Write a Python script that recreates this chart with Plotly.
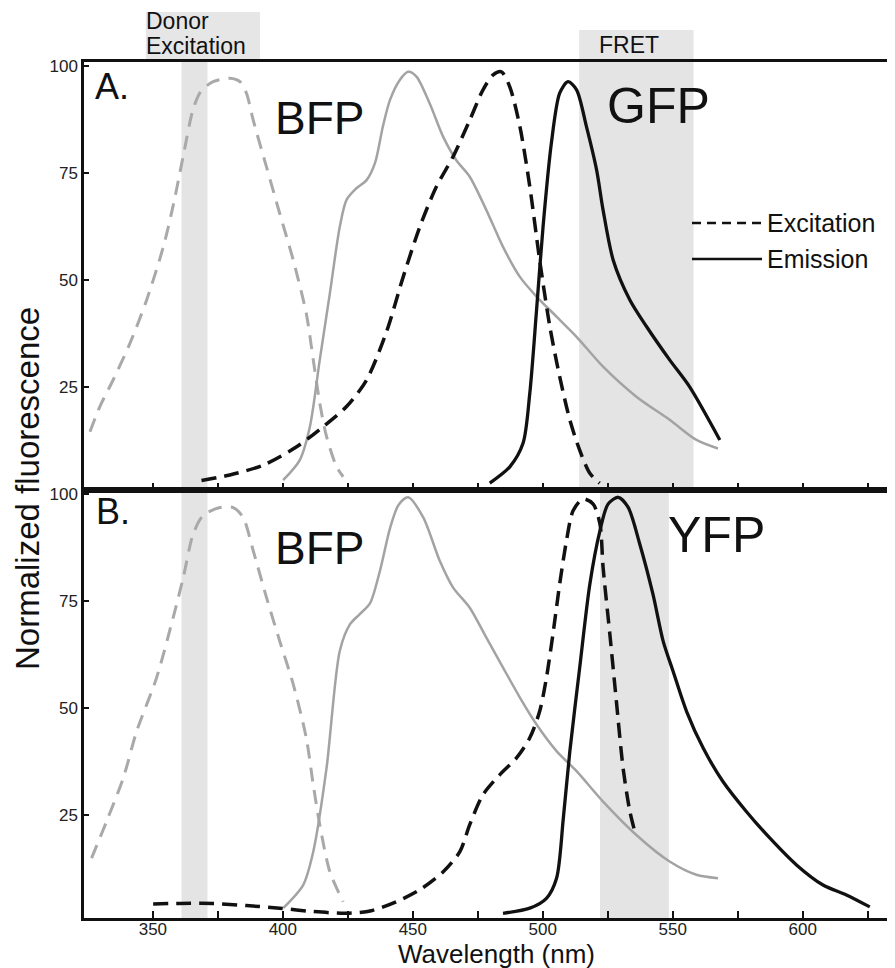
import plotly.graph_objects as go

# ---------------- data (wavelength nm, normalized fluorescence) ----------------
# Panel A: BFP -> GFP
a_bfp_ex_x = [325.8, 329.6, 334.7, 341.2, 347.6, 354.0, 358.0, 361.5, 365.5, 368.5, 373.2, 379.6, 383.5, 386.0, 388.6, 393.7, 398.8, 404.0, 409.0, 411.7, 414.2, 416.8, 420.7, 423.2]
a_bfp_ex_y = [14.6, 20.5, 26.7, 35.3, 45.4, 57.8, 68.0, 78.5, 90.0, 94.2, 96.4, 97.2, 96.4, 93.7, 87.4, 76.5, 65.6, 54.7, 42.3, 31.4, 21.3, 13.5, 6.4, 4.1]

a_bfp_em_x = [400.1, 406.5, 410.4, 414.2, 418.1, 421.9, 424.5, 428.3, 432.2, 435.5, 438.5, 441.2, 445.0, 448.2, 451.4, 456.5, 461.7, 466.8, 471.9, 478.3, 484.7, 491.2, 497.6, 505.3, 513.0, 523.2, 536.0, 548.8, 559.1, 567.4]
a_bfp_em_y = [3.3, 8.0, 15.8, 31.4, 47.0, 62.5, 68.8, 71.5, 73.4, 77.5, 86.0, 92.1, 96.8, 98.7, 97.6, 91.3, 83.5, 78.0, 74.2, 66.4, 57.8, 50.8, 46.2, 41.5, 36.8, 29.8, 22.8, 17.4, 12.7, 10.7]

a_gfp_ex_x = [368.7, 379.6, 392.4, 405.3, 415.5, 424.5, 432.2, 439.9, 446.3, 452.7, 459.1, 465.5, 471.9, 477.0, 480.9, 484.1, 487.3, 491.2, 495.0, 498.8, 502.7, 506.5, 510.4, 514.2, 518.1, 521.9]
a_gfp_ex_y = [3.2, 4.5, 6.8, 11.1, 15.8, 20.5, 26.7, 38.0, 50.8, 62.5, 71.9, 78.9, 87.4, 94.5, 98.0, 98.7, 95.2, 85.9, 71.9, 54.7, 39.2, 27.5, 17.4, 10.3, 4.9, 2.6]

a_gfp_em_x = [479.6, 487.3, 492.4, 495.0, 497.6, 500.1, 503.3, 506.5, 509.7, 513.0, 516.8, 520.7, 523.2, 527.1, 533.5, 539.9, 548.8, 556.5, 568.1]
a_gfp_em_y = [2.6, 6.4, 11.9, 23.6, 43.0, 62.5, 82.0, 93.7, 96.4, 94.5, 85.9, 75.8, 66.4, 54.7, 45.4, 39.2, 31.4, 25.1, 12.7]

# Panel B: BFP -> YFP
b_bfp_ex_x = [326.4, 332.2, 338.6, 343.8, 351.4, 357.8, 361.7, 365.5, 369.3, 375.8, 380.9, 384.7, 388.6, 393.7, 398.8, 404.0, 409.0, 411.7, 414.2, 418.1, 423.2]
b_bfp_ex_y = [15.0, 23.6, 33.7, 44.7, 57.1, 71.2, 80.6, 90.7, 95.0, 96.9, 96.9, 94.6, 86.8, 75.9, 65.7, 55.6, 43.1, 32.1, 22.8, 11.8, 4.8]

b_bfp_em_x = [400.1, 407.8, 411.7, 416.8, 421.9, 425.8, 429.6, 433.5, 437.3, 441.2, 444.5, 448.2, 454.0, 460.4, 465.5, 471.9, 478.3, 484.7, 491.2, 497.6, 505.3, 513.0, 523.2, 536.0, 548.8, 559.1, 567.4]
b_bfp_em_y = [3.3, 8.7, 16.5, 36.0, 63.4, 69.6, 72.0, 74.5, 82.0, 92.0, 97.5, 99.3, 94.6, 84.4, 78.2, 73.5, 66.5, 59.5, 52.5, 46.2, 40.0, 35.3, 28.2, 20.4, 14.2, 11.1, 10.3]

b_yfp_ex_x = [350.1, 360.4, 373.2, 386.0, 398.8, 411.7, 424.5, 434.0, 443.7, 452.7, 461.7, 468.1, 471.9, 477.0, 483.5, 489.9, 495.0, 498.8, 501.4, 503.9, 506.5, 509.1, 511.7, 515.5, 519.4, 522.0, 523.2, 525.8, 528.3, 530.9, 533.5, 535.4]
b_yfp_ex_y = [4.3, 4.4, 4.4, 3.9, 3.3, 2.5, 2.1, 2.7, 4.8, 7.6, 11.8, 16.5, 22.8, 29.8, 34.5, 38.4, 43.1, 49.3, 57.1, 67.3, 79.0, 89.1, 96.2, 98.9, 97.7, 93.0, 82.9, 67.3, 51.7, 36.0, 25.9, 21.2]

b_yfp_em_x = [484.7, 495.0, 501.4, 505.3, 507.9, 510.4, 514.2, 518.1, 522.0, 525.1, 529.0, 532.8, 537.3, 542.4, 546.3, 550.1, 555.3, 561.7, 569.3, 578.3, 587.3, 597.6, 607.8, 616.8, 625.8]
b_yfp_em_y = [2.1, 3.3, 5.6, 10.3, 24.3, 39.9, 59.5, 79.0, 91.5, 97.7, 99.3, 97.0, 88.4, 76.6, 65.7, 58.7, 49.3, 40.7, 32.9, 25.9, 19.7, 13.4, 8.7, 6.4, 3.6]

# shaded wavelength bands (nm)
donor_band = [361, 371]
fret_band_a = [514, 558]
fret_band_b = [522, 548.5]
donor_label_span = [347.3, 391.2]

# axis ticks
x_tickvals = [350, 375, 400, 425, 450, 475, 500, 525, 550, 575, 600, 625]
x_ticktext = ["350", "", "400", "", "450", "", "500", "", "550", "", "600", ""]
y_tickvals = [25, 50, 75, 100]
y_ticktext = ["25", "50", "75", "100"]

X_RANGE = [323.5, 635.5]
Y_RANGE = [1, 101]

# ---------------- styles ----------------
GRAY_DASH = dict(color="#a9a9a9", width=3, dash="14px,9px")
GRAY_SOLID = dict(color="#a3a3a3", width=2.5)
BLACK_DASH = dict(color="#111111", width=3.5, dash="15px,8px")
BLACK_SOLID = dict(color="#111111", width=3.3)
FONT = "Liberation Sans, Arial, Helvetica, sans-serif"

fig = go.Figure()

def add(xs, ys, line, xa, ya):
    ln = dict(line)
    ln["shape"] = "spline"
    ln["smoothing"] = 0.8
    fig.add_trace(go.Scatter(x=xs, y=ys, mode="lines", line=ln, xaxis=xa, yaxis=ya,
                             showlegend=False, hoverinfo="skip"))

add(a_bfp_ex_x, a_bfp_ex_y, GRAY_DASH, "x", "y")
add(a_bfp_em_x, a_bfp_em_y, GRAY_SOLID, "x", "y")
add(a_gfp_ex_x, a_gfp_ex_y, BLACK_DASH, "x", "y")
add(a_gfp_em_x, a_gfp_em_y, BLACK_SOLID, "x", "y")

add(b_bfp_ex_x, b_bfp_ex_y, GRAY_DASH, "x2", "y2")
add(b_bfp_em_x, b_bfp_em_y, GRAY_SOLID, "x2", "y2")
add(b_yfp_ex_x, b_yfp_ex_y, BLACK_DASH, "x2", "y2")
add(b_yfp_em_x, b_yfp_em_y, BLACK_SOLID, "x2", "y2")

BAND = "#e4e4e4"
shapes = []
for xr, ya in [(donor_band, "y"), (fret_band_a, "y"), (donor_band, "y2"), (fret_band_b, "y2")]:
    xa = "x" if ya == "y" else "x2"
    shapes.append(dict(type="rect", xref=xa, yref=ya + " domain", x0=xr[0], x1=xr[1], y0=0, y1=1,
                       fillcolor=BAND, line=dict(width=0), layer="below"))

def xfrac(v):
    return (v - X_RANGE[0]) / (X_RANGE[1] - X_RANGE[0])

# label boxes above the plot
shapes.append(dict(type="rect", xref="x domain", yref="paper", x0=xfrac(donor_label_span[0]), x1=xfrac(donor_label_span[1]),
                   y0=1.0, y1=1.0584, fillcolor="#e6e6e6", line=dict(width=0), layer="below"))
shapes.append(dict(type="rect", xref="x domain", yref="paper", x0=xfrac(fret_band_a[0]), x1=xfrac(fret_band_a[1]),
                   y0=1.0, y1=1.0374, fillcolor="#e6e6e6", line=dict(width=0), layer="below"))

# legend samples
shapes.append(dict(type="line", xref="paper", yref="paper", x0=0.7497, x1=0.836, y0=0.8119, y1=0.8119,
                   line=dict(color="#111111", width=2.5, dash="9px,6px")))
shapes.append(dict(type="line", xref="paper", yref="paper", x0=0.7497, x1=0.836, y0=0.7699, y1=0.7699,
                   line=dict(color="#111111", width=2.5)))

def ann(text, x, y, size, xanchor="center", angle=0, align="center"):
    return dict(text=text, x=x, y=y, xref="paper", yref="paper", showarrow=False,
                xanchor=xanchor, yanchor="middle", textangle=angle, align=align,
                font=dict(family=FONT, size=size, color="#111111"))

annotations = [
    ann("A.", 0.0345, 0.9715, 36),
    ann("BFP", 0.2898, 0.9346, 46),
    ann("GFP", 0.709, 0.9486, 50),
    ann("B.", 0.0358, 0.4745, 36),
    ann("BFP", 0.2898, 0.4322, 46),
    ann("YFP", 0.7805, 0.4474, 50),
    ann("Donor", 0.0745, 1.0475, 23, xanchor="left"),
    ann("Excitation", 0.0745, 1.0185, 23, xanchor="left"),
    ann("FRET", 0.672, 1.0204, 23),
    ann("Excitation", 0.8395, 0.8119, 25, xanchor="left"),
    ann("Emission", 0.8395, 0.7699, 25, xanchor="left"),
    ann("Normalized fluorescence", -0.0703, 0.5023, 33, angle=-90),
    ann("Wavelength (nm)", 0.509, -0.0415, 26),
]

axis_common = dict(showline=True, linecolor="#111111", linewidth=2.5, showgrid=False, zeroline=False,
                   ticks="inside", tickcolor="#111111", tickwidth=2)

# page body has an 8px margin; size the figure so the plot lands where the reference's does
fig.update_layout(
    width=887, height=960,
    margin=dict(l=76, r=0, t=54, b=50),
    paper_bgcolor="white", plot_bgcolor="white",
    font=dict(family=FONT, color="#222222"),
    shapes=shapes, annotations=annotations,
    xaxis=dict(domain=[0, 1], anchor="y", range=X_RANGE, mirror=True, tickvals=x_tickvals,
               ticktext=x_ticktext, showticklabels=False, ticklen=7, **axis_common),
    yaxis=dict(domain=[0.5, 1], anchor="x", range=Y_RANGE, tickvals=y_tickvals, ticktext=y_ticktext,
               ticklen=5, tickfont=dict(size=17, color="#222222"), **axis_common),
    xaxis2=dict(domain=[0, 1], anchor="y2", range=X_RANGE, mirror=True, tickvals=x_tickvals,
                ticktext=x_ticktext, ticklen=7, ticklabelstandoff=-6,
                tickfont=dict(size=17, color="#222222"), **axis_common),
    yaxis2=dict(domain=[0, 0.5], anchor="x2", range=Y_RANGE, tickvals=y_tickvals, ticktext=y_ticktext,
                ticklen=5, tickfont=dict(size=17, color="#222222"), **axis_common),
    showlegend=False,
)

fig.write_html("out.html")
